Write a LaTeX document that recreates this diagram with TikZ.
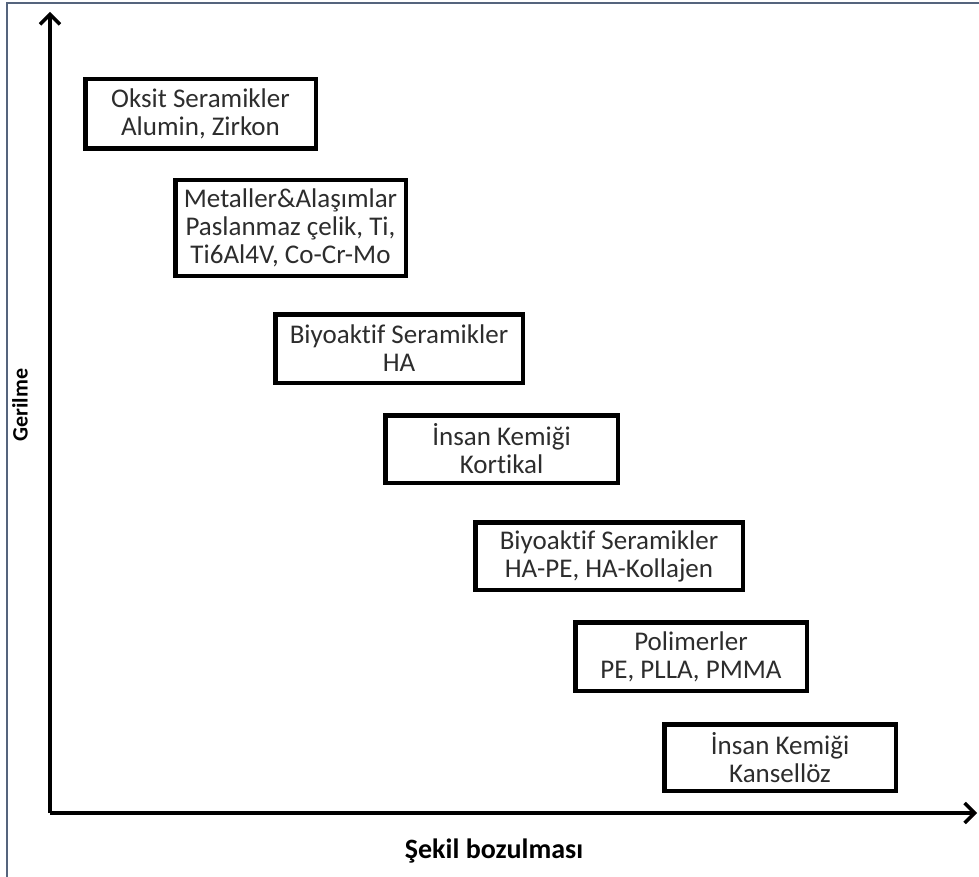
\documentclass[tikz,border=0pt]{standalone}
\usepackage{fontspec}
\setmainfont[Ligatures=NoCommon]{Carlito}
\usetikzlibrary{arrows.meta}
\definecolor{framecol}{RGB}{85,100,125}
\definecolor{txt}{RGB}{45,45,45}
\tikzset{
  matbox/.style={draw=black, line width=4.5pt, rectangle, align=center, inner sep=0pt,
    text=txt, font=\fontsize{27}{28}\selectfont},
  axis/.style={line width=3.5pt, -{Straight Barb[length=10pt,width=20pt,line width=3.5pt]}},
  axlabel/.style={font=\bfseries\fontsize{28}{30}\selectfont, text=black}
}
\begin{document}
\begin{tikzpicture}[x=1pt,y=-1pt]
\useasboundingbox (0,0) rectangle (979,877);
\fill[white] (0,0) rectangle (979,877);
\draw[framecol, line width=1.5pt] (7,877) -- (7,3) -- (979,3);
\coordinate (O) at (50,813);
\coordinate (Ytop) at (50,12);
\coordinate (Xend) at (977,813);
\draw[axis] (O) -- (Ytop);
\draw[axis] (O) -- (Xend);
\node[axlabel] (xl) at (494,851) {Şekil bozulması};
\node[axlabel, font=\bfseries\fontsize{22}{24}\selectfont, rotate=90] (yl) at (20,405) {Gerilme};
\node[matbox, minimum width=230.5pt, minimum height=69.5pt] (b1) at (200.5,114) {Oksit Seramikler\\Alumin, Zirkon};
\node[matbox, minimum width=230.5pt, minimum height=95.5pt] (b2) at (290.5,228) {Metaller\&Alaşımlar\\Paslanmaz çelik, Ti,\\Ti6Al4V, Co-Cr-Mo};
\node[matbox, minimum width=247.5pt, minimum height=68.5pt] (b3) at (399,348.5) {Biyoaktif Seramikler\\HA};
\node[matbox, minimum width=232.5pt, minimum height=67.5pt] (b4) at (501.5,449) {İnsan Kemiği\\Kortikal};
\node[matbox, minimum width=267.5pt, minimum height=67.5pt] (b5) at (609,556) {Biyoaktif Seramikler\\HA-PE, HA-Kollajen};
\node[matbox, minimum width=231.5pt, minimum height=68.5pt] (b6) at (691,656.5) {Polimerler\\PE, PLLA, PMMA};
\node[matbox, minimum width=231.5pt, minimum height=66.5pt] (b7) at (780,757.5) {İnsan Kemiği\\Kansellöz};
\end{tikzpicture}
\end{document}
